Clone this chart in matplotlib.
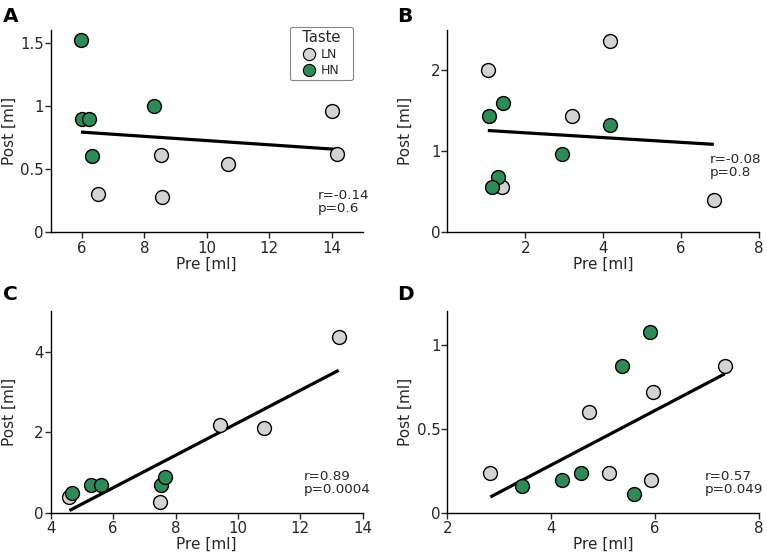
import numpy as np
import matplotlib
matplotlib.use("Agg")
import matplotlib.pyplot as plt
from matplotlib.ticker import FormatStrFormatter
from matplotlib.lines import Line2D

# ---- data ----
A_ln_pre = [6.52, 8.54, 8.57, 10.68, 14.0, 14.18]
A_ln_post = [0.30, 0.61, 0.28, 0.54, 0.96, 0.62]
A_hn_pre = [5.97, 5.99, 6.24, 6.33, 8.31]
A_hn_post = [1.52, 0.90, 0.895, 0.60, 1.00]

B_ln_pre = [1.04, 4.17, 3.20, 1.40, 6.84]
B_ln_post = [2.00, 2.36, 1.44, 0.56, 0.40]
B_hn_pre = [1.07, 1.44, 1.31, 1.14, 2.94, 4.17]
B_hn_post = [1.44, 1.60, 0.68, 0.56, 0.967, 1.32]

C_ln_pre = [4.60, 7.50, 9.42, 10.84, 13.23]
C_ln_post = [0.40, 0.28, 2.19, 2.10, 4.36]
C_hn_pre = [4.67, 5.28, 5.60, 7.55, 7.65]
C_hn_post = [0.50, 0.70, 0.70, 0.70, 0.90]

D_ln_pre = [2.83, 4.73, 5.12, 5.92, 5.96, 7.34]
D_ln_post = [0.238, 0.598, 0.238, 0.198, 0.719, 0.877]
D_hn_pre = [3.43, 4.21, 4.57, 5.59, 5.36, 5.91]
D_hn_post = [0.158, 0.198, 0.238, 0.115, 0.877, 1.077]

stats = ["r=-0.14\np=0.6", "r=-0.08\np=0.8", "r=0.89\np=0.0004", "r=0.57\np=0.049"]
letters = ["A", "B", "C", "D"]
legend_labels = ["LN", "HN"]
legend_title = "Taste"

LN_COLOR = "#d3d3d3"
HN_COLOR = "#2e8b57"
TXT = "#262626"

fig = plt.figure(figsize=(7.67, 5.56), dpi=100)

W, H = 767, 556
def ax_rect(l, r, b, t):
    return [l / W, 1 - b / H, (r - l) / W, (b - t) / H]

panels = [
    dict(rect=ax_rect(50.7, 362.7, 232.3, 30), xlim=(5, 15), ylim=(0, 1.6),
         xticks=[6, 8, 10, 12, 14], yticks=[0, 0.5, 1, 1.5],
         ln=(A_ln_pre, A_ln_post), hn=(A_hn_pre, A_hn_post), tx=0.857, ty=0.085),
    dict(rect=ax_rect(447.3, 759, 232.3, 30), xlim=(0, 8), ylim=(0, 2.5),
         xticks=[2, 4, 6, 8], yticks=[0, 1, 2],
         ln=(B_ln_pre, B_ln_post), hn=(B_hn_pre, B_hn_post), tx=0.843, ty=0.263),
    dict(rect=ax_rect(50.7, 362.7, 513, 311.3), xlim=(4, 14), ylim=(0, 5),
         xticks=[4, 6, 8, 10, 12, 14], yticks=[0, 2, 4],
         ln=(C_ln_pre, C_ln_post), hn=(C_hn_pre, C_hn_post), tx=0.812, ty=0.083),
    dict(rect=ax_rect(447.3, 759, 513, 311.3), xlim=(2, 8), ylim=(0, 1.2),
         xticks=[2, 4, 6, 8], yticks=[0, 0.5, 1],
         ln=(D_ln_pre, D_ln_post), hn=(D_hn_pre, D_hn_post), tx=0.826, ty=0.083),
]

letter_pos = [(3, 7), (397, 7), (3, 285), (397, 285)]

for i, p in enumerate(panels):
    ax = fig.add_axes(p["rect"])
    xs = np.array(list(p["ln"][0]) + list(p["hn"][0]))
    ys = np.array(list(p["ln"][1]) + list(p["hn"][1]))
    slope, icpt = np.polyfit(xs, ys, 1)
    xl = np.array([xs.min(), xs.max()])
    ax.plot(xl, slope * xl + icpt, color="black", lw=2.3, zorder=2,
            solid_capstyle="butt")
    ax.scatter(p["ln"][0], p["ln"][1], s=100, c=LN_COLOR, edgecolors="black",
               linewidths=1.0, zorder=3)
    ax.scatter(p["hn"][0], p["hn"][1], s=100, c=HN_COLOR, edgecolors="black",
               linewidths=1.0, zorder=3)
    ax.set_xlim(*p["xlim"])
    ax.set_ylim(*p["ylim"])
    ax.set_xticks(p["xticks"])
    ax.set_yticks(p["yticks"])
    ax.yaxis.set_major_formatter(FormatStrFormatter("%g"))
    ax.spines["top"].set_visible(False)
    ax.spines["right"].set_visible(False)
    for s in ("left", "bottom"):
        ax.spines[s].set_linewidth(1.0)
    ax.tick_params(direction="out", length=4, width=1.0, labelsize=10.8, pad=2,
                   colors=TXT, labelcolor=TXT)
    ax.tick_params(axis="y", pad=1)
    ax.set_xlabel("Pre [ml]", fontsize=11, labelpad=0.5, color=TXT)
    ax.set_ylabel("Post [ml]", fontsize=11, color=TXT)
    ax.yaxis.set_label_coords(-0.11, 0.5)
    ax.text(p["tx"], p["ty"], stats[i], transform=ax.transAxes, ha="left",
            va="bottom", multialignment="left", fontsize=9.7, linespacing=1.0,
            color=TXT)
    lx, ly = letter_pos[i]
    fig.text(lx / W, 1 - ly / H, letters[i], fontsize=14.5, fontweight="bold",
             ha="left", va="top")
    if i == 0:
        handles = [
            Line2D([], [], marker="o", ls="none", markersize=8.8,
                   markerfacecolor=LN_COLOR, markeredgecolor="black", markeredgewidth=0.8),
            Line2D([], [], marker="o", ls="none", markersize=8.8,
                   markerfacecolor=HN_COLOR, markeredgecolor="black", markeredgewidth=0.8),
        ]
        leg = ax.legend(handles, legend_labels, title="  " + legend_title + "  ",
                        loc="upper right",
                        bbox_to_anchor=(0.968, 1.015), borderaxespad=0,
                        fontsize=9, title_fontsize=10.5, frameon=True,
                        handletextpad=0.4, labelspacing=0.25, borderpad=0.25,
                        handlelength=1.0, fancybox=True)
        for t in leg.get_texts():
            t.set_color(TXT)
        leg.get_title().set_color(TXT)
        leg.get_frame().set_edgecolor("#666666")
        leg.get_frame().set_linewidth(0.8)

fig.savefig("out.png", dpi=100)
